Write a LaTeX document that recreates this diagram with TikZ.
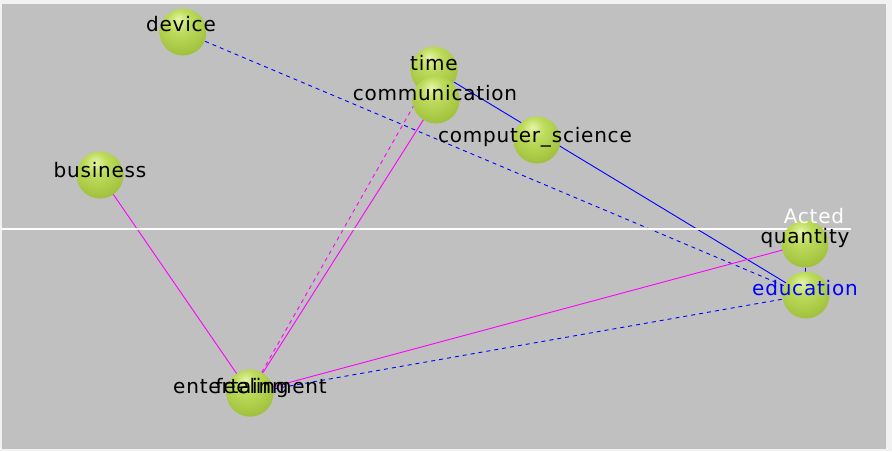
\documentclass[tikz,border=0pt]{standalone}
\usepackage{fontspec}
\setmainfont{DejaVu Sans}
\newfontfamily\lblfont[LetterSpace=4]{DejaVu Sans}
\usetikzlibrary{backgrounds}
\pgfdeclarelayer{back}
\pgfdeclarelayer{edges}
\pgfsetlayers{back,edges,main}
\definecolor{panel}{HTML}{C0C0C0}
\definecolor{outer}{HTML}{F2F2F2}
\definecolor{sphhi}{HTML}{E4F4A8}
\definecolor{sphmid}{HTML}{BEDC5C}
\definecolor{sphlo}{HTML}{9EBE3A}
\definecolor{sphedge}{HTML}{6E8C22}
\definecolor{eblue}{HTML}{0000FF}
\definecolor{emag}{HTML}{FF00FF}
\pgfdeclareradialshading{greenball}{\pgfpoint{-5bp}{14bp}}{%
  color(0bp)=(sphhi); color(12bp)=(sphmid); color(34bp)=(sphlo); color(52bp)=(sphedge); color(70bp)=(sphedge)}
\begin{document}
\begin{tikzpicture}[x=1pt,y=-1pt,
  sph/.style={circle, minimum size=47pt, inner sep=0pt, shading=greenball},
  lbl/.style={anchor=base, inner sep=0pt, font=\lblfont\fontsize{20}{24}\selectfont, text=black},
  bsolid/.style={draw=eblue, line width=0.9pt},
  bdash/.style={draw=eblue, line width=0.9pt, dash pattern=on 4pt off 4pt},
  msolid/.style={draw=emag, line width=0.9pt},
  mdash/.style={draw=emag, line width=0.9pt, dash pattern=on 4pt off 4pt}]
\useasboundingbox (0,0) rectangle (892,451);
\begin{pgfonlayer}{back}
  \fill[outer] (0,0) rectangle (892,451);
  \fill[panel] (2,4) rectangle (886,449);
\end{pgfonlayer}

% spheres
\node[sph] (device) at (183,32) {};
\node[sph] (time) at (434,70) {};
\node[sph] (communication) at (436,100) {};
\node[sph] (computer) at (537,140) {};
\node[sph] (business) at (100,175) {};
\node[sph] (quantity) at (805,244) {};
\node[sph] (education) at (806,295) {};
\node[sph] (entertainment) at (250,393) {};
\node[sph] (feeling) at (250,393) {};

% edges
\begin{pgfonlayer}{edges}
  \draw[bdash] (device.center) -- (education.center);
  \draw[bsolid] (time.center) -- (education.center);
  \draw[mdash] (time.center) -- (entertainment.center);
  \draw[msolid] (communication.center) -- (feeling.center);
  \draw[msolid] (business.center) -- (feeling.center);
  \draw[msolid] (feeling.center) -- (quantity.center);
  \draw[bdash] (entertainment.center) -- (education.center);
  \draw[bdash] (quantity.center) -- (education.center);
  \coordinate (hl) at (2,229);
  \coordinate (hr) at (851,229);
  \draw[white, line width=1.8pt] (hl) -- (hr);
\end{pgfonlayer}

% labels
\node[lbl] (device-l) at (181,31) {device};
\node[lbl] (time-l) at (434,70) {time};
\node[lbl] (communication-l) at (435,100) {communication};
\node[lbl] (computer-l) at (535,142) {computer\_science};
\node[lbl] (business-l) at (100,177) {business};
\node[lbl, text=white] (acted-l) at (814,223) {Acted};
\node[lbl] (quantity-l) at (805,243) {quantity};
\node[lbl, text=eblue] (education-l) at (805,295) {education};
\node[lbl] (entertainment-l) at (250,393) {entertainment};
\node[lbl] (feeling-l) at (252,393) {feeling};
\end{tikzpicture}
\end{document}
